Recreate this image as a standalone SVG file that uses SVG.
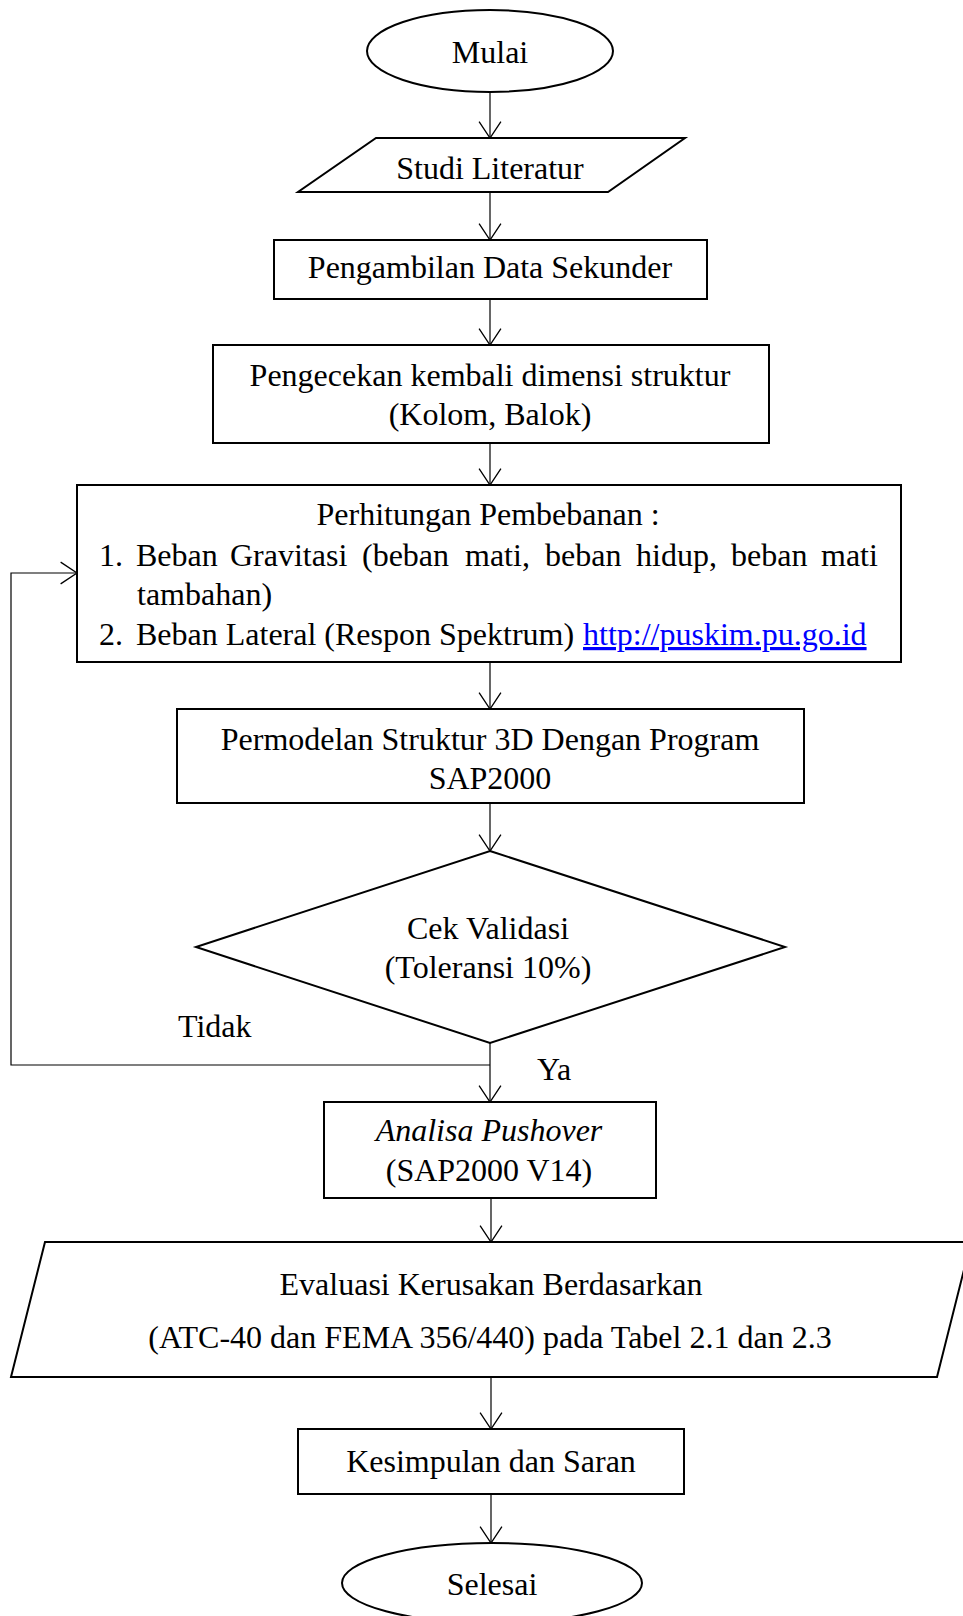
<svg xmlns="http://www.w3.org/2000/svg" width="963" height="1616" viewBox="0 0 963 1616">
<style>
  .shape { fill: #ffffff; stroke: #000000; stroke-width: 2; }
  .conn { fill: none; stroke: #000000; stroke-width: 1.2; }
  text { font-family: "Liberation Serif", "Times New Roman", serif; font-size: 32px; fill: #000000; }
  .c { text-anchor: middle; }
  .it { font-style: italic; }
  .link { fill: #0000ff; text-decoration: underline; }
</style>
<defs>
  <marker id="arr" markerUnits="userSpaceOnUse" markerWidth="20" markerHeight="24" refX="0" refY="0" viewBox="-16 -11 17 22" orient="auto" overflow="visible">
    <path d="M -15 -10 L 0 0 L -15 10" fill="none" stroke="#000000" stroke-width="1.2"/>
  </marker>
</defs>
<rect width="963" height="1616" fill="#ffffff"/>

<g id="connectors">
  <line class="conn" x1="490" y1="92" x2="490" y2="138" marker-end="url(#arr)"/>
  <line class="conn" x1="490" y1="192" x2="490" y2="240" marker-end="url(#arr)"/>
  <line class="conn" x1="490" y1="299" x2="490" y2="345" marker-end="url(#arr)"/>
  <line class="conn" x1="490" y1="443" x2="490" y2="485" marker-end="url(#arr)"/>
  <line class="conn" x1="490" y1="662" x2="490" y2="709" marker-end="url(#arr)"/>
  <line class="conn" x1="490" y1="803" x2="490" y2="851" marker-end="url(#arr)"/>
  <line class="conn" x1="490" y1="1043" x2="490" y2="1102" marker-end="url(#arr)"/>
  <polyline class="conn" points="490,1065 11,1065 11,573 77,573" marker-end="url(#arr)"/>
  <line class="conn" x1="491" y1="1198" x2="491" y2="1242" marker-end="url(#arr)"/>
  <line class="conn" x1="491" y1="1377" x2="491" y2="1429" marker-end="url(#arr)"/>
  <line class="conn" x1="491" y1="1494" x2="491" y2="1543" marker-end="url(#arr)"/>
  <text x="178" y="1037">Tidak</text>
  <text x="537" y="1080">Ya</text>
</g>

<g id="mulai">
  <ellipse class="shape" cx="490" cy="51" rx="123" ry="41"/>
  <text class="c" x="490" y="63">Mulai</text>
</g>

<g id="studi-literatur">
  <polygon class="shape" points="376,138 685,138 608,192 298,192"/>
  <text class="c" x="490" y="179">Studi Literatur</text>
</g>

<g id="pengambilan-data">
  <rect class="shape" x="274" y="240" width="433" height="59"/>
  <text class="c" x="490" y="278">Pengambilan Data Sekunder</text>
</g>

<g id="pengecekan">
  <rect class="shape" x="213" y="345" width="556" height="98"/>
  <text class="c" x="490" y="386">Pengecekan kembali dimensi struktur</text>
  <text class="c" x="490" y="425">(Kolom, Balok)</text>
</g>

<g id="perhitungan">
  <rect class="shape" x="77" y="485" width="824" height="177"/>
  <text class="c" x="488" y="525">Perhitungan Pembebanan :</text>
  <text x="99" y="566">1.</text>
  <text x="136" y="566">Beban</text>
  <text x="230" y="566">Gravitasi</text>
  <text x="362" y="566">(beban</text>
  <text x="465" y="566">mati,</text>
  <text x="545" y="566">beban</text>
  <text x="636" y="566">hidup,</text>
  <text x="731" y="566">beban</text>
  <text x="821" y="566">mati</text>
  <text x="137" y="605">tambahan)</text>
  <text x="99" y="645">2.</text>
  <text x="136" y="645">Beban Lateral (Respon Spektrum)</text>
  <text class="link" x="583" y="645">http://puskim.pu.go.id</text>
</g>

<g id="permodelan">
  <rect class="shape" x="177" y="709" width="627" height="94"/>
  <text class="c" x="490" y="750">Permodelan Struktur 3D Dengan Program</text>
  <text class="c" x="490" y="789">SAP2000</text>
</g>

<g id="cek-validasi">
  <polygon class="shape" points="490,851 785,947 490,1043 196,947"/>
  <text class="c" x="488" y="939">Cek Validasi</text>
  <text class="c" x="488" y="978">(Toleransi 10%)</text>
</g>

<g id="analisa-pushover">
  <rect class="shape" x="324" y="1102" width="332" height="96"/>
  <text class="c it" x="489" y="1141">Analisa Pushover</text>
  <text class="c" x="489" y="1181">(SAP2000 V14)</text>
</g>

<g id="evaluasi">
  <polygon class="shape" points="45,1242 971,1242 937,1377 11,1377"/>
  <text class="c" x="491" y="1295">Evaluasi Kerusakan Berdasarkan</text>
  <text class="c" x="490" y="1348">(ATC-40 dan FEMA 356/440) pada Tabel 2.1 dan 2.3</text>
</g>

<g id="kesimpulan">
  <rect class="shape" x="298" y="1429" width="386" height="65"/>
  <text class="c" x="491" y="1472">Kesimpulan dan Saran</text>
</g>

<g id="selesai">
  <ellipse class="shape" cx="492" cy="1583" rx="150" ry="40"/>
  <text class="c" x="492" y="1595">Selesai</text>
</g>
</svg>
